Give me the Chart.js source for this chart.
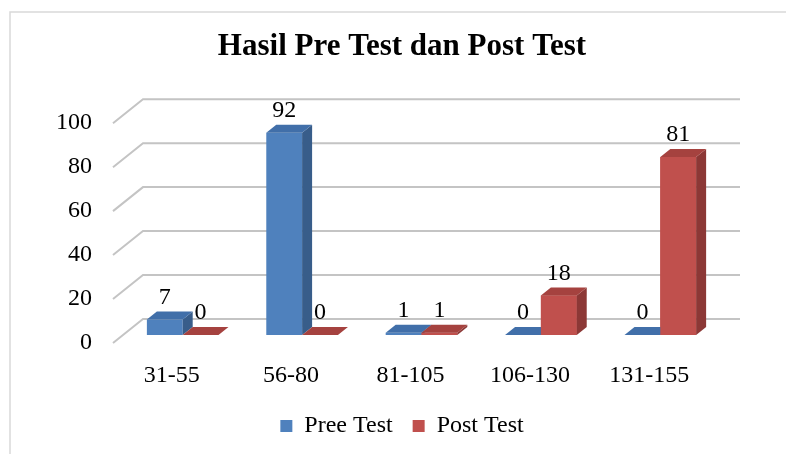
<!DOCTYPE html>
<html>
<head>
<meta charset="utf-8">
<script src="https://cdn.jsdelivr.net/npm/chart.js@4.4.1/dist/chart.umd.min.js"></script>
<style>
  body { margin: 0; background: #fff; }
  #wrap { width: 786px; height: 454px; }
</style>
</head>
<body>
<div id="wrap"><canvas id="myChart"></canvas></div>
<script>
var categories = ['31-55', '56-80', '81-105', '106-130', '131-155'];
var preTest = [7, 92, 1, 0, 0];
var postTest = [0, 0, 1, 18, 81];

// depth of the fake 3d: bar depth and wall offsets from the bar plane
var DX = 10, DY = -8;

var faces = {
    '#4F81BD': { side: '#385D8A', top: '#416FA9' },
    '#C0504D': { side: '#8C3836', top: '#A5423F' }
};

function drawFaces(c, el, col) {
    var p = el.getProps(['x', 'y', 'base', 'width'], true);
    var l = p.x - p.width / 2, r = p.x + p.width / 2;
    var top = Math.min(p.y, p.base), bot = Math.max(p.y, p.base);
    c.fillStyle = col.side;
    c.beginPath();
    c.moveTo(r, top);
    c.lineTo(r + DX, top + DY);
    c.lineTo(r + DX, bot + DY);
    c.lineTo(r, bot);
    c.closePath();
    c.fill();
    c.fillStyle = col.top;
    c.beginPath();
    c.moveTo(l, top);
    c.lineTo(r, top);
    c.lineTo(r + DX, top + DY);
    c.lineTo(l + DX, top + DY);
    c.closePath();
    c.fill();
}

var frame3d = {
    id: 'frame3d',
    beforeDraw: function(chart) {
        var c = chart.ctx;
        c.save();
        c.strokeStyle = '#d9d9d9';
        c.lineWidth = 1.5;
        c.beginPath();
        c.moveTo(10, 454);
        c.lineTo(10, 12);
        c.lineTo(786, 12);
        c.stroke();
        c.restore();
    },
    beforeDatasetsDraw: function(chart) {
        var c = chart.ctx, y = chart.scales.y, a = chart.chartArea;
        c.save();
        c.strokeStyle = '#c4c4c4';
        c.lineWidth = 2;
        y.ticks.forEach(function(t) {
            var py = y.getPixelForValue(t.value);
            c.beginPath();
            c.moveTo(a.left - DX, py - DY);
            c.lineTo(a.left + 2 * DX, py + 2 * DY);
            c.lineTo(a.right + 2 * DX, py + 2 * DY);
            c.stroke();
        });
        c.restore();
    },
    afterDatasetsDraw: function(chart) {
        var c = chart.ctx;
        c.save();
        // left series first, then the right series again on top of it
        chart.getDatasetMeta(0).data.forEach(function(el) {
            drawFaces(c, el, faces[chart.data.datasets[0].backgroundColor]);
        });
        chart.getDatasetMeta(1).data.forEach(function(el) {
            el.draw(c);
            drawFaces(c, el, faces[chart.data.datasets[1].backgroundColor]);
        });
        c.fillStyle = '#000';
        c.font = '24px "Liberation Serif"';
        c.textAlign = 'center';
        c.textBaseline = 'middle';
        chart.data.datasets.forEach(function(ds, di) {
            chart.getDatasetMeta(di).data.forEach(function(el, i) {
                c.fillText(String(ds.data[i]), el.x, el.y - 22);
            });
        });
        c.restore();
    }
};

var ctx = document.getElementById('myChart').getContext('2d');
var myChart = new Chart(ctx, {
    type: 'bar',
    data: {
        labels: categories,
        datasets: [{
            label: 'Pree Test',
            data: preTest,
            backgroundColor: '#4F81BD',
            borderWidth: 0
        }, {
            label: 'Post Test',
            data: postTest,
            backgroundColor: '#C0504D',
            borderWidth: 0
        }]
    },
    options: {
        responsive: true,
        maintainAspectRatio: false,
        animation: false,
        devicePixelRatio: 1,
        datasets: { bar: { barPercentage: 1, categoryPercentage: 0.6 } },
        layout: { padding: { left: 18, right: 0, top: 0, bottom: 6 } },
        plugins: {
            title: {
                display: true,
                text: 'Hasil Pre Test dan Post Test',
                color: '#000',
                font: { family: 'Liberation Serif', size: 31, weight: 'bold' },
                padding: { top: 28, bottom: 50 }
            },
            legend: {
                position: 'bottom',
                labels: {
                    color: '#000',
                    font: { family: 'Liberation Serif', size: 24 },
                    boxWidth: 12,
                    boxHeight: 12,
                    padding: 20
                }
            },
            tooltip: { enabled: false }
        },
        scales: {
            x: {
                grid: { display: false, drawTicks: false },
                border: { display: false },
                ticks: {
                    color: '#000',
                    font: { family: 'Liberation Serif', size: 24 },
                    padding: 26,
                    labelOffset: -11,
                    maxRotation: 0
                },
                afterFit: function(s) { s.height = 59; }
            },
            y: {
                min: 0,
                max: 100,
                grid: { display: false, drawTicks: false },
                border: { display: false },
                ticks: {
                    stepSize: 20,
                    color: '#000',
                    font: { family: 'Liberation Serif', size: 24 },
                    padding: 31,
                    labelOffset: 8
                },
                afterFit: function(s) { s.width = 105; }
            },
            // empty axis that only keeps the space on the right
            y2: {
                position: 'right',
                grid: { display: false, drawTicks: false },
                border: { display: false },
                ticks: { display: false },
                afterFit: function(s) { s.width = 66; }
            }
        }
    },
    plugins: [frame3d]
});
</script>
</body>
</html>
